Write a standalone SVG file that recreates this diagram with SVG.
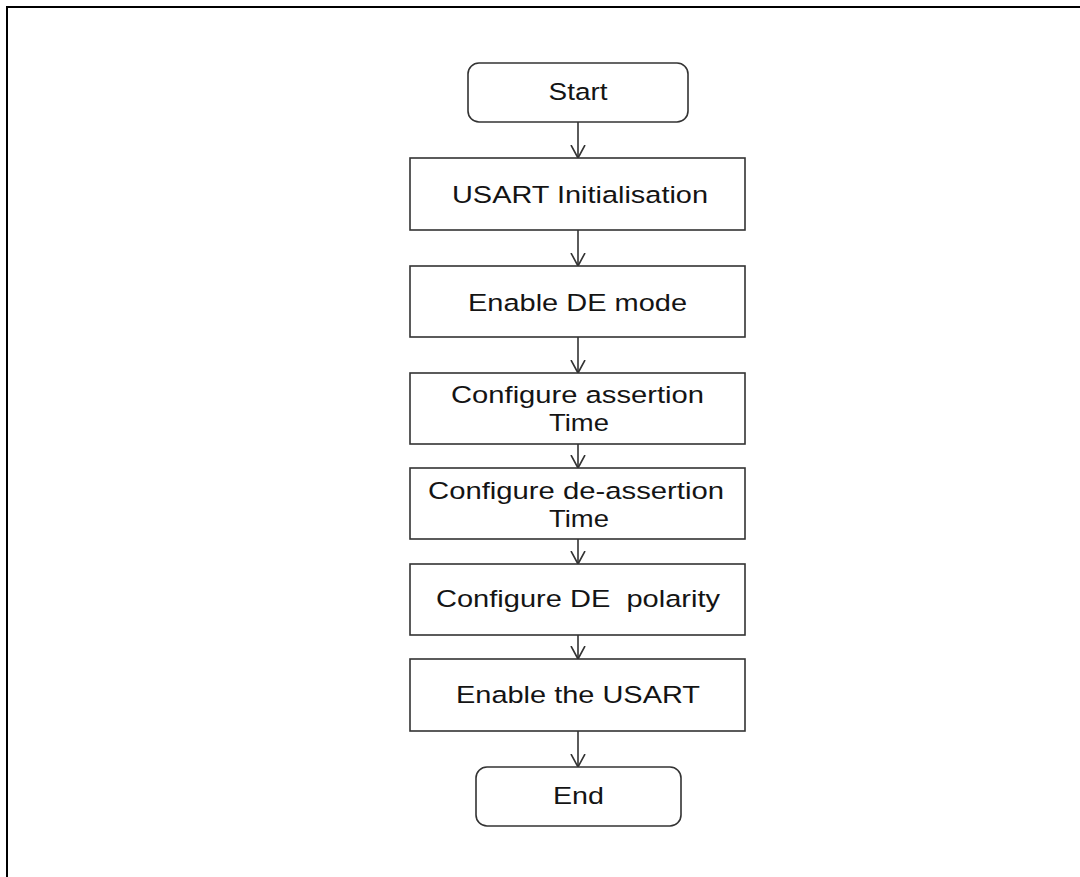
<svg xmlns="http://www.w3.org/2000/svg" width="1080" height="877" viewBox="0 0 1080 877">
<style>
.box{fill:#fff;stroke:#333;stroke-width:1.6}
.t{font-family:"Liberation Sans",Arial,sans-serif;font-size:24.5px;fill:#141414;text-anchor:middle}
.c{stroke:#333;stroke-width:1.6;fill:none}
</style>
<defs>
<marker id="arr" markerWidth="16" markerHeight="16" refX="13" refY="8" orient="auto" markerUnits="userSpaceOnUse">
<path d="M0,1 L13,8 L0,15" fill="none" stroke="#333" stroke-width="1.6"/>
</marker>
</defs>
<rect width="1080" height="877" fill="#fff"/>
<path d="M7,877 V7 H1080" fill="none" stroke="#000" stroke-width="2"/>
<g id="connectors">
<line class="c" x1="578" y1="122" x2="578" y2="158" marker-end="url(#arr)"/>
<line class="c" x1="578" y1="230" x2="578" y2="266" marker-end="url(#arr)"/>
<line class="c" x1="578" y1="337" x2="578" y2="373" marker-end="url(#arr)"/>
<line class="c" x1="578" y1="444" x2="578" y2="468" marker-end="url(#arr)"/>
<line class="c" x1="578" y1="539" x2="578" y2="564" marker-end="url(#arr)"/>
<line class="c" x1="578" y1="635" x2="578" y2="659" marker-end="url(#arr)"/>
<line class="c" x1="578" y1="731" x2="578" y2="767" marker-end="url(#arr)"/>
</g>
<g id="start">
<rect class="box" x="468" y="63" width="220" height="59" rx="11"/>
<text class="t" x="578" y="100" textLength="59" lengthAdjust="spacingAndGlyphs">Start</text>
</g>
<g id="usart-init">
<rect class="box" x="410" y="158" width="335" height="72"/>
<text class="t" x="580" y="203" textLength="256" lengthAdjust="spacingAndGlyphs">USART Initialisation</text>
</g>
<g id="enable-de">
<rect class="box" x="410" y="266" width="335" height="71"/>
<text class="t" x="577.5" y="311" textLength="219" lengthAdjust="spacingAndGlyphs">Enable DE mode</text>
</g>
<g id="assertion">
<rect class="box" x="410" y="373" width="335" height="71"/>
<text class="t" x="577.5" y="403" textLength="253" lengthAdjust="spacingAndGlyphs">Configure assertion</text>
<text class="t" x="579" y="431" textLength="60" lengthAdjust="spacingAndGlyphs">Time</text>
</g>
<g id="deassertion">
<rect class="box" x="410" y="468" width="335" height="71"/>
<text class="t" x="576" y="499" textLength="296" lengthAdjust="spacingAndGlyphs">Configure de-assertion</text>
<text class="t" x="579" y="527" textLength="60" lengthAdjust="spacingAndGlyphs">Time</text>
</g>
<g id="polarity">
<rect class="box" x="410" y="564" width="335" height="71"/>
<text class="t" x="578" y="607" textLength="284" lengthAdjust="spacingAndGlyphs" xml:space="preserve">Configure DE  polarity</text>
</g>
<g id="enable-usart">
<rect class="box" x="410" y="659" width="335" height="72"/>
<text class="t" x="578" y="703" textLength="244" lengthAdjust="spacingAndGlyphs">Enable the USART</text>
</g>
<g id="end">
<rect class="box" x="476" y="767" width="205" height="59" rx="11"/>
<text class="t" x="578.5" y="804" textLength="51" lengthAdjust="spacingAndGlyphs">End</text>
</g>
</svg>
